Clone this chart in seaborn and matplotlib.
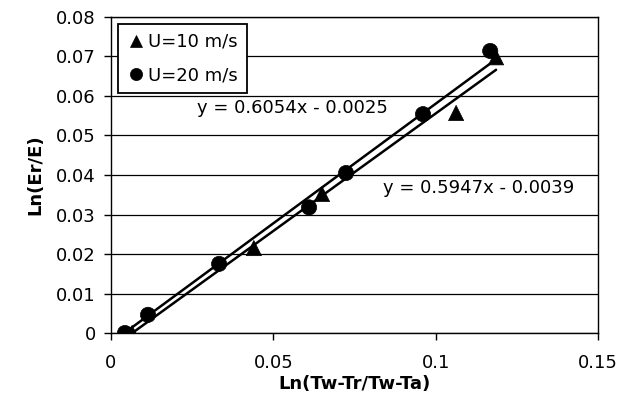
import numpy as np
import pandas as pd
import matplotlib
matplotlib.use("Agg")
import matplotlib.pyplot as plt
import seaborn as sns

# Data
x_u10 = [0.0065, 0.0440, 0.0650, 0.1063, 0.1186]
y_u10 = [0.0000, 0.0215, 0.0352, 0.0557, 0.0698]
x_u20 = [0.0043, 0.0114, 0.0333, 0.0610, 0.0724, 0.0961, 0.1168]
y_u20 = [0.0000, 0.0046, 0.0175, 0.0318, 0.0405, 0.0554, 0.0714]
series_names = ["U=10 m/s", "U=20 m/s"]
slopes = [0.5947, 0.6054]
intercepts = [-0.0039, -0.0025]
equations = ["y = 0.5947x - 0.0039", "y = 0.6054x - 0.0025"]
x_ticks = [0, 0.05, 0.1, 0.15]
x_tick_labels = ["0", "0.05", "0.1", "0.15"]
y_ticks = [0, 0.01, 0.02, 0.03, 0.04, 0.05, 0.06, 0.07, 0.08]
y_tick_labels = ["0", "0.01", "0.02", "0.03", "0.04", "0.05", "0.06", "0.07", "0.08"]
x_label = "Ln(Tw-Tr/Tw-Ta)"
y_label = "Ln(Er/E)"

df = pd.DataFrame({
    "x": x_u10 + x_u20,
    "y": y_u10 + y_u20,
    "U": [series_names[0]] * len(x_u10) + [series_names[1]] * len(x_u20),
})

sns.set_theme(style="white")
plt.rcParams["font.family"] = ["DejaVu Sans"]
plt.rcParams["text.color"] = "black"
plt.rcParams["axes.labelcolor"] = "black"
plt.rcParams["xtick.color"] = "black"
plt.rcParams["ytick.color"] = "black"

fig = plt.figure(figsize=(6.25, 3.98), dpi=100)
ax = fig.add_axes([0.1776, 0.1633, 0.7792, 0.794])

# horizontal gridlines
for yt in y_ticks:
    ax.axhline(yt, color="black", lw=0.9, zorder=0)

# trend lines over each series' x range
for xs, m, b in [(x_u10, slopes[0], intercepts[0]), (x_u20, slopes[1], intercepts[1])]:
    xr = np.array([min(xs), max(xs)])
    ax.plot(xr, m * xr + b, color="black", lw=1.8, zorder=2)

sns.scatterplot(data=df, x="x", y="y", style="U",
                markers={series_names[0]: "^", series_names[1]: "o"},
                color="black", s=120, edgecolor="black", linewidth=0.5,
                ax=ax, zorder=3, legend=True)

ax.set_xlim(0, 0.15)
ax.set_ylim(0, 0.08)
ax.set_xticks(x_ticks)
ax.set_xticklabels(x_tick_labels)
ax.set_yticks(y_ticks)
ax.set_yticklabels(y_tick_labels)
ax.tick_params(axis="both", which="major", direction="out", length=5, width=1,
               color="black", labelsize=13, labelcolor="black", bottom=True, left=True, pad=4)
ax.tick_params(axis="x", pad=10)
ax.tick_params(axis="y", pad=6)

for sp in ax.spines.values():
    sp.set_visible(True)
    sp.set_color("black")
    sp.set_linewidth(1.0)

ax.set_xlabel(x_label, fontsize=13, fontweight="bold", labelpad=2, color="black")
ax.set_ylabel(y_label, fontsize=13, fontweight="bold", labelpad=8, color="black")

# equations
ax.text(0.0265, 0.0570, equations[1], fontsize=13, va="center", ha="left", color="black")
ax.text(0.0838, 0.0368, equations[0], fontsize=13, va="center", ha="left", color="black")

leg = ax.legend(loc="upper left", bbox_to_anchor=(0.015, 0.978), frameon=True,
                fancybox=False, edgecolor="black", fontsize=13, handletextpad=0.15,
                handlelength=1.0, borderpad=0.5, labelspacing=0.85, borderaxespad=0,
                markerscale=0.8)
leg.get_frame().set_linewidth(1.3)
leg.get_frame().set_alpha(1)
for t in leg.get_texts():
    t.set_color("black")

fig.savefig("out.png", dpi=100)
